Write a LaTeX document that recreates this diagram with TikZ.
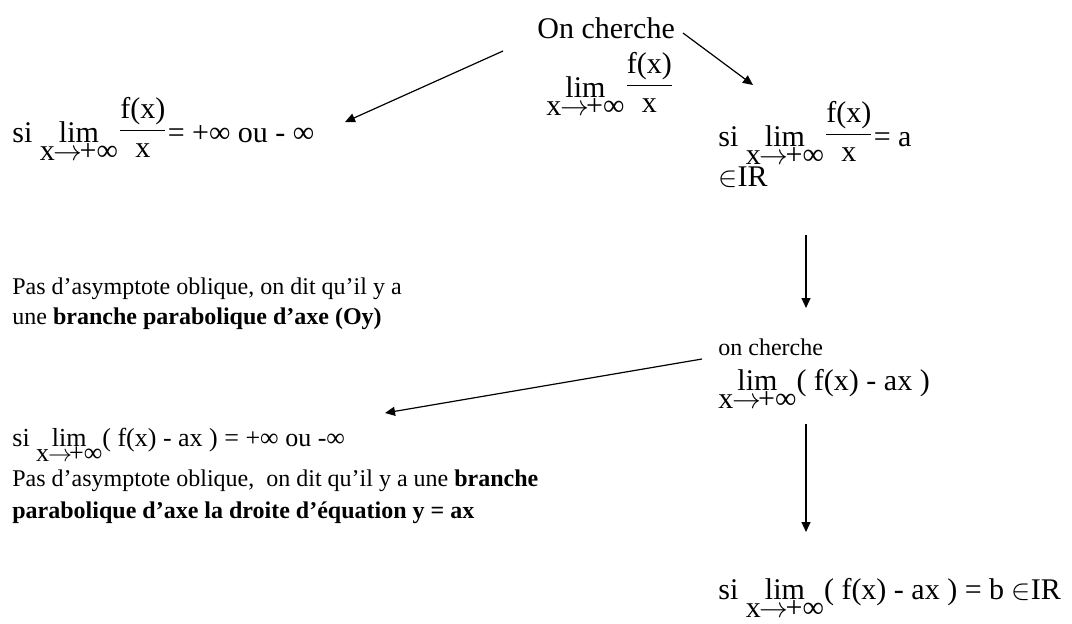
\documentclass[tikz,border=0pt]{standalone}
\usepackage{amsmath}
\usepackage{fontspec}
\setmainfont{Liberation Serif}
\usetikzlibrary{arrows.meta}
\newsavebox{\subbox}
\newcommand{\limx}{\sbox{\subbox}{x\kern-0.5pt$\rightarrow$\kern-1.5pt+∞}%
  \rlap{\makebox[\wd\subbox]{lim}}\raisebox{-0.6em}{\usebox{\subbox}}}
\newcommand{\fracfx}{\raisebox{2pt}{$\dfrac{\text{f(x)}}{\text{x}}$}}
\begin{document}
\begin{tikzpicture}[x=0.5pt,y=-0.5pt,
    txt/.style={anchor=base west,inner sep=0pt},
    big/.style={txt,font=\fontsize{15}{17}\selectfont},
    mid/.style={txt,font=\fontsize{13}{15}\selectfont},
    arr/.style={-{Triangle[length=5pt,width=4.5pt]},line width=0.6pt}]
                \useasboundingbox (0,0) rectangle (1072,623);
                {\fontsize{12}{14}\selectfont

                % Top: the limit we look for
                \node[big] (onch) at (537,38) {On cherche};
                \node[big] (limtop) at (546,97) {\limx\fracfx};

                % Left case: infinite limit
                \node[big] (siA) at (12,142) {si \limx\fracfx = +∞ ou - ∞};
                \node[txt] (pasA1) at (12,294) {Pas d’asymptote oblique, on dit qu’il y a};
                \node[txt] (pasA2) at (12,324) {une \textbf{branche parabolique d’axe (Oy)}};

                % Right case: finite limit a
                \node[big] (siAr) at (718,146) {si \limx\fracfx = a};
                \node[big] (inR) at (718,186) {$\in$IR};

                % Second step
                \node[txt] (onch2) at (718,355) {on cherche};
                \node[big] (lim2) at (718,390) {\limx( f(x) - ax )};

                % Left case: f(x) - ax infinite
                \node[mid] (siB) at (12,446) {si \limx( f(x) - ax ) = +∞ ou -∞};
                \node[txt] (pasB1) at (12,486) {Pas d’asymptote oblique,\ \ on dit qu’il y a une \textbf{branche}};
                \node[txt] (pasB2) at (12,518) {\textbf{parabolique d’axe la droite d’équation y = ax}};

                % Bottom: finite limit b
                \node[big] (siC) at (718,599) {si \limx( f(x) - ax ) = b $\in$IR};

                % Arrow ends
                \coordinate (a1s) at (503,51);
                \coordinate (a1e) at (345,122);
                \coordinate (a2s) at (683,33);
                \coordinate (a2e) at (753,85);
                \coordinate (a3s) at (806,235);
                \coordinate (a3e) at (806,308);
                \coordinate (a4s) at (702,359);
                \coordinate (a4e) at (385,413);
                \coordinate (a5s) at (806,424);
                \coordinate (a5e) at (806,532);

                % Drawing arrows
                \draw[arr] (a1s) -- (a1e);
                \draw[arr] (a2s) -- (a2e);
                \draw[arr] (a3s) -- (a3e);
                \draw[arr] (a4s) -- (a4e);
                \draw[arr] (a5s) -- (a5e);
                }
\end{tikzpicture}
\end{document}
